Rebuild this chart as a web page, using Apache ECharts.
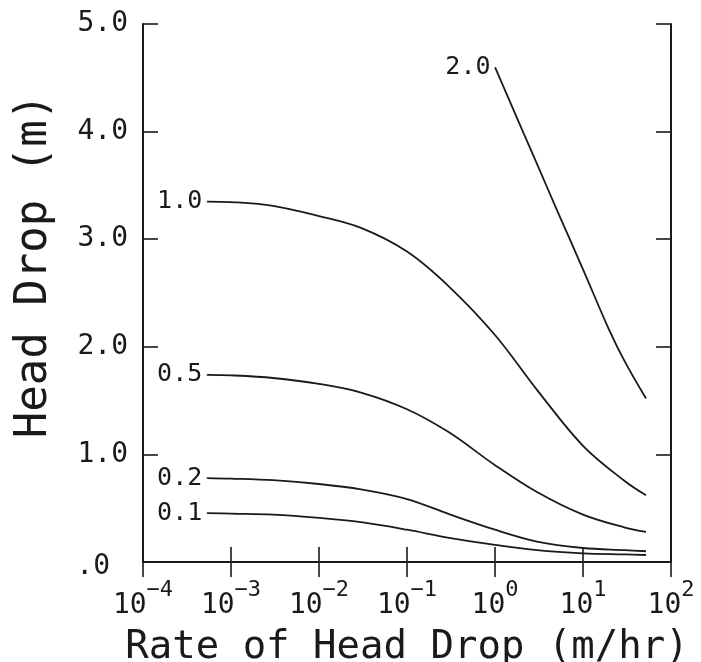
<!DOCTYPE html>
<html><head><meta charset="utf-8">
<script src="https://cdn.jsdelivr.net/npm/echarts@6/dist/echarts.min.js"></script>
<style>html,body{margin:0;padding:0;background:#fff}#c{width:701px;height:662px}</style>
</head><body><div id="c"></div>
<script>
// Rate of head drop (m/hr) sample points
const rates = [0.00053, 0.001, 0.003, 0.01, 0.03, 0.1, 0.3, 1, 3, 10, 30, 52];
// Head drop (m) for each curve
const drop010 = [0.455, 0.45, 0.44, 0.41, 0.37, 0.30, 0.225, 0.16, 0.11, 0.08, 0.07, 0.065];
const drop020 = [0.78, 0.775, 0.76, 0.725, 0.675, 0.585, 0.445, 0.30, 0.19, 0.13, 0.11, 0.10];
const drop050 = [1.74, 1.735, 1.71, 1.655, 1.575, 1.42, 1.205, 0.90, 0.65, 0.44, 0.32, 0.28];
const drop100 = [3.35, 3.345, 3.31, 3.215, 3.105, 2.885, 2.56, 2.11, 1.60, 1.08, 0.75, 0.62];
const rates200 = [1, 2, 3, 5, 10, 20, 30, 52];
const drop200 = [4.60, 4.03, 3.70, 3.28, 2.72, 2.15, 1.86, 1.52];
const curveNames = ['0.1', '0.2', '0.5', '1.0', '2.0'];
const xTickExponents = [-4, -3, -2, -1, 0, 1, 2];
const yTickValues = [0, 1, 2, 3, 4, 5];
const yTickLabels = ['.0', '1.0', '2.0', '3.0', '4.0', '5.0'];

const FONT = 'DejaVu Sans Mono';
const INK = '#1a1a1a';

const curveX = [rates, rates, rates, rates, rates200];
const curveY = [drop010, drop020, drop050, drop100, drop200];

const pairs = (xs, ys) => xs.map((x, i) => [x, ys[i]]);

const series = [];
curveNames.forEach((name, k) => {
  series.push({
    type: 'line', name: name,
    data: pairs(curveX[k], curveY[k]),
    showSymbol: false, symbol: 'none', smooth: 0.35,
    lineStyle: { color: INK, width: 1.8 },
    silent: true, z: 3
  });
});
series.push({
  type: 'scatter',
  data: curveNames.map((name, k) => ({ name: name, value: [curveX[k][0], curveY[k][0]] })),
  symbolSize: 1,
  itemStyle: { color: '#ffffff', opacity: 1 },
  label: {
    show: true, position: 'left', distance: 4,
    formatter: p => p.name,
    fontFamily: FONT, fontSize: 25, color: INK, opacity: 1
  },
  silent: true, z: 4
});

const xLabelFmt = v => {
  const e = Math.round(Math.log10(v));
  if (xTickExponents.indexOf(e) < 0) return '';
  return '{b|10}{s|' + (e < 0 ? '\u2212' + (-e) : String(e)) + '}';
};
const yLabelFmt = v => {
  const i = yTickValues.indexOf(v);
  if (i < 0) return '';
  return v === 0 ? '{z|' + yTickLabels[i] + '}' : yTickLabels[i];
};

const axisLine = { show: true, lineStyle: { color: INK, width: 2 } };
const axisTick = { show: true, inside: true, length: 15, lineStyle: { color: INK, width: 1.6 } };

const option = {
  backgroundColor: '#fff',
  animation: false,
  grid: { left: 143, right: 30, top: 24, bottom: 100, containLabel: false, outerBoundsMode: 'none' },
  xAxis: [{
    type: 'log', logBase: 10, min: 1e-4, max: 100, position: 'bottom',
    axisLine: axisLine, axisTick: axisTick, splitLine: { show: false },
    minorTick: { show: false },
    axisLabel: {
      show: true, margin: 12, formatter: xLabelFmt, color: INK, fontFamily: FONT,
      rich: {
        b: { fontFamily: FONT, fontSize: 28, color: INK, verticalAlign: 'bottom', lineHeight: 46 },
        s: { fontFamily: FONT, fontSize: 22, color: INK, verticalAlign: 'top', lineHeight: 24, padding: [5, 0, 0, 0] }
      }
    },
    name: 'Rate of Head Drop (m/hr)', nameLocation: 'middle', nameGap: 66, nameMoveOverlap: false,
    nameTextStyle: { fontFamily: FONT, fontSize: 39, color: INK }
  }, {
    type: 'log', logBase: 10, min: 1e-4, max: 100, position: 'top',
    axisLine: axisLine, axisTick: axisTick, splitLine: { show: false },
    axisLabel: { show: false }
  }],
  yAxis: [{
    type: 'value', min: 0, max: 5, interval: 1, position: 'left',
    axisLine: axisLine, axisTick: axisTick, splitLine: { show: false },
    axisLabel: {
      show: true, margin: 15, formatter: yLabelFmt, color: INK, fontFamily: FONT, fontSize: 28,
      rich: { z: { fontFamily: FONT, fontSize: 28, color: INK, padding: [10, 18, 0, 0] } }
    },
    name: 'Head Drop (m)', nameLocation: 'middle', nameGap: 86, nameRotate: 90, nameMoveOverlap: false,
    nameTextStyle: { fontFamily: FONT, fontSize: 44, color: INK, padding: [0, 0, 0, 54] }
  }, {
    type: 'value', min: 0, max: 5, interval: 1, position: 'right',
    axisLine: axisLine, axisTick: axisTick, splitLine: { show: false },
    axisLabel: { show: false }
  }],
  series: series
};

const chart = echarts.init(document.getElementById('c'), null, { renderer: 'canvas' });
chart.setOption(option);
</script>
</body></html>
